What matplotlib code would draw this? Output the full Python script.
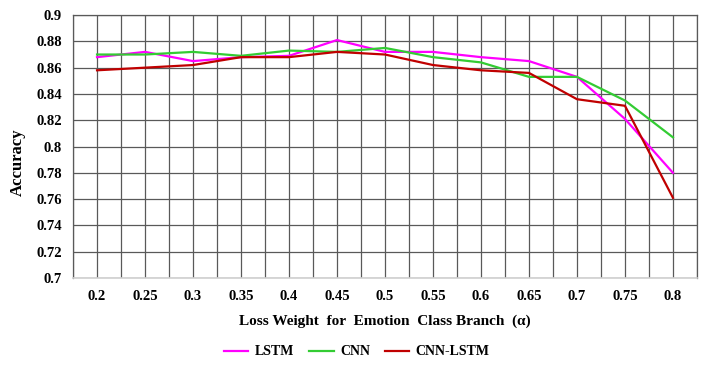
import numpy as np
import matplotlib
matplotlib.use("Agg")
import matplotlib.pyplot as plt

plt.rcParams['font.family'] = ['Liberation Serif', 'DejaVu Serif']
plt.rcParams['font.weight'] = 'bold'

# data
alpha = ['0.2', '0.25', '0.3', '0.35', '0.4', '0.45', '0.5', '0.55', '0.6', '0.65', '0.7', '0.75', '0.8']
lstm = [0.868, 0.872, 0.865, 0.868, 0.869, 0.881, 0.872, 0.872, 0.868, 0.865, 0.853, 0.821, 0.780]
cnn = [0.870, 0.870, 0.872, 0.869, 0.873, 0.872, 0.875, 0.868, 0.864, 0.853, 0.853, 0.835, 0.807]
cnn_lstm = [0.858, 0.860, 0.862, 0.868, 0.868, 0.872, 0.870, 0.862, 0.858, 0.856, 0.836, 0.831, 0.761]

fig = plt.figure(figsize=(7.26, 3.77), dpi=100)
ax = fig.add_axes([0.1006, 0.2626, 0.8594, 0.6974])

x = np.arange(len(alpha))
ax.plot(x, lstm, color='#FF00FF', lw=1.6, label='LSTM')
ax.plot(x, cnn, color='#33CC33', lw=1.6, label='CNN')
ax.plot(x, cnn_lstm, color='#C00000', lw=1.6, label='CNN-LSTM')

ax.set_xlim(-0.5, len(alpha) - 0.5)
ax.set_ylim(0.7, 0.9)
ax.set_xticks(x)
ax.set_xticklabels(alpha)
ax.set_xticks(np.arange(-0.5, len(alpha), 1.0), minor=True)
ax.set_yticks(np.arange(0.7, 0.9001, 0.02))
ax.set_yticklabels(['0.7', '0.72', '0.74', '0.76', '0.78', '0.8', '0.82', '0.84', '0.86', '0.88', '0.9'])

grid_c = '#595959'
ax.grid(True, which='both', color=grid_c, lw=0.9)
ax.set_axisbelow(True)
ax.tick_params(which='both', length=0, labelsize=10.5)
ax.tick_params(axis='x', pad=9)
ax.tick_params(axis='y', pad=8)
for s in ['left', 'top', 'right']:
    ax.spines[s].set_color(grid_c)
    ax.spines[s].set_linewidth(0.9)
ax.spines['bottom'].set_color('#D0D0D0')
ax.spines['bottom'].set_linewidth(1.2)

ax.set_ylabel('Accuracy', fontsize=12, fontweight='bold', labelpad=3)
ax.yaxis.set_label_coords(-0.075, 0.44)
ax.set_xlabel('Loss Weight  for  Emotion  Class Branch  (\u03b1)', fontsize=11, fontweight='bold', labelpad=8)

ax.legend(loc='center', bbox_to_anchor=(0.455, -0.281), ncol=3, frameon=False,
          prop={'size': 10, 'weight': 'bold'}, handlelength=1.75, handletextpad=0.45, columnspacing=1.1)

fig.savefig('out.png', dpi=100)
